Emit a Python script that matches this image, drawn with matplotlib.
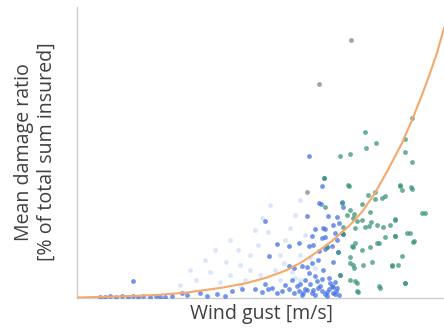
import matplotlib
matplotlib.use("Agg")
import matplotlib.pyplot as plt

# Fitted damage curve (wind gust, mean damage ratio)
curve_x = [0, 40, 80, 110, 145, 170, 190, 210, 225, 240, 255, 272, 285, 298, 312, 325, 335, 345, 352, 360, 367]
curve_y = [0.5, 1.5, 3, 5.5, 10.3, 15, 20.5, 28, 36, 46, 57, 72, 86, 105, 130, 155, 178, 203, 222, 245, 270]

# Blue observations
blue_x = [23, 28, 33, 39, 45, 51, 56, 61, 66, 73, 79, 83, 56, 88, 95,
          105, 110, 123, 130, 140, 148,
          155, 165, 178, 185, 191, 195, 200, 205, 212, 217, 222, 228, 235, 241, 245, 248, 252, 258, 260,
          208, 223, 233, 253, 188,
          192, 212, 217, 225, 232, 238, 245, 235, 242, 248, 255, 232, 222, 212, 200, 235, 245, 248, 258,
          265, 262, 230, 242, 245, 247, 188, 232, 236, 250, 261, 241, 256, 230, 246, 263, 256, 250, 236,
          226, 256, 244, 238, 246, 248, 260, 266, 256, 260, 251, 265, 266,
          225, 230, 238, 243, 250, 255, 259, 262, 240, 252, 258, 220, 215, 228]
blue_y = [1, 1, 2, 1, 2, 1, 2, 1, 2, 1, 2, 1, 17, 1, 2,
          5, 3, 5, 2, 4, 2,
          7, 9, 9, 6, 9, 10, 5, 7, 9, 5, 7, 9, 5, 10, 7, 4, 9, 4, 10,
          13, 14, 14, 15, 14,
          42, 32, 30, 32, 25, 22, 19, 35, 47, 49, 52, 52, 55, 52, 54, 62, 60, 69, 65,
          65, 75, 82, 95, 112, 120, 77, 142, 53, 51, 46, 38, 36, 31, 28, 23, 11, 6, 8,
          5, 5, 94, 69, 70, 61, 58, 64, 73, 81, 82, 96, 91,
          3, 8, 3, 12, 2, 12, 7, 3, 17, 20, 16, 12, 18, 18]

# Light blue observations
light_x = [113, 128, 138, 153, 163, 173, 178, 185, 193, 168, 183, 198, 203, 208, 213, 218, 223,
           228, 203, 218, 153, 143, 181, 191, 223, 223, 233, 238, 173, 163, 103, 119, 133, 149,
           161, 207, 215]
light_y = [28, 38, 48, 58, 33, 43, 68, 80, 93, 18, 23, 28, 43, 58, 70, 83, 43,
           63, 18, 20, 23, 16, 53, 66, 98, 18, 40, 30, 28, 13, 13, 18, 26, 36,
           48, 35, 26]

# Green observations
green_x = [272, 265, 277, 280, 278, 275, 273, 277, 278, 280, 292, 302, 318, 298, 308, 323, 335,
           318, 330, 337, 325, 315, 328, 302, 345, 285, 263, 273, 288, 299, 289, 335, 328, 328,
           335, 247, 271, 323, 325, 334, 291, 298, 305, 248, 273, 270, 293, 276, 285, 318, 294,
           266, 306, 278, 288, 300, 313, 318, 333, 336, 308, 266, 250, 261, 276, 285, 293, 300,
           273, 276, 286, 295, 315, 321, 263, 273, 280, 281, 303, 328, 348]
green_y = [112, 95, 84, 77, 55, 52, 35, 30, 17, 7, 72, 55, 62, 99, 102, 112, 109,
           79, 65, 57, 42, 32, 15, 12, 85, 94, 142, 144, 166, 155, 150, 180, 159, 146,
           136, 120, 113, 113, 108, 111, 103, 106, 100, 91, 88, 83, 86, 80, 78, 78, 76,
           71, 71, 70, 71, 73, 73, 62, 65, 56, 61, 64, 51, 46, 51, 48, 51, 55,
           41, 33, 33, 36, 33, 33, 23, 18, 15, 6, 10, 15, 85]

# Grey observations
grey_x = [274, 242, 230]
grey_y = [258, 214, 106]

W, H = 444, 333
fig = plt.figure(figsize=(W / 100, H / 100), dpi=100)
ax = fig.add_axes([77 / W, 35 / H, 367 / W, 291 / H])

ax.scatter(light_x, light_y, s=12, color="#c4d8f6", alpha=0.6, linewidths=0, zorder=2)
ax.scatter(blue_x, blue_y, s=12, color="#4573e2", alpha=0.75, linewidths=0, zorder=3)
ax.scatter(green_x, green_y, s=12, color="#3a9674", alpha=0.75, linewidths=0, zorder=3)
ax.scatter(grey_x, grey_y, s=12, color="#8c8c8c", alpha=0.8, linewidths=0, zorder=3)
ax.plot(curve_x, curve_y, color="#f4a86c", lw=1.5, zorder=4, solid_joinstyle="round")

ax.set_xlim(0, 367)
ax.set_ylim(0, 291)
ax.set_xticks([])
ax.set_yticks([])
for s in ["top", "right"]:
    ax.spines[s].set_visible(False)
for s in ["left", "bottom"]:
    ax.spines[s].set_color("#cfcfcf")
    ax.spines[s].set_linewidth(1.0)

fam = ["Open Sans", "DejaVu Sans"]
txt_color = "#404040"
# (text, rotation, centre x px, centre y px from top, target length px)
labels = [
    ("Wind gust [m/s]", 0, 262, 314, 143),
    ("Mean damage ratio", 90, 24, 152, 178),
    ("[% of total sum insured]", 90, 47, 152, 218),
]
renderer = fig.canvas.get_renderer()
for text, rot, cx, cy, target in labels:
    t = fig.text(cx / W, 1 - cy / H, text, rotation=rot, ha="center", va="center",
                 fontsize=12, color=txt_color, family=fam)
    bb = t.get_window_extent(renderer)
    length = bb.width if rot == 0 else bb.height
    t.set_fontsize(12 * target / length)

fig.savefig("out.png", dpi=100)
